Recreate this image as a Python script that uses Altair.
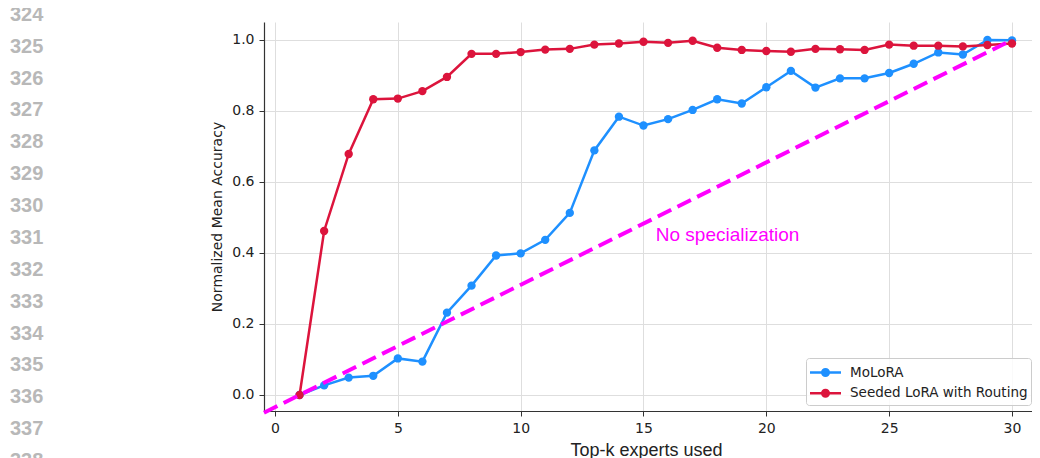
import altair as alt
import pandas as pd

# ---------------- data ----------------
k_values = list(range(1, 31))
molora = [0.0, 0.027, 0.049, 0.054, 0.103, 0.094, 0.232, 0.308, 0.393, 0.399,
          0.437, 0.513, 0.689, 0.784, 0.759, 0.777, 0.803, 0.833, 0.821, 0.867,
          0.913, 0.866, 0.892, 0.892, 0.907, 0.933, 0.965, 0.959, 1.000, 0.999]
seeded = [0.0, 0.462, 0.679, 0.833, 0.835, 0.856, 0.896, 0.961, 0.961, 0.966,
          0.973, 0.975, 0.987, 0.990, 0.995, 0.992, 0.998, 0.978, 0.972, 0.969,
          0.967, 0.975, 0.974, 0.972, 0.987, 0.984, 0.984, 0.982, 0.986, 0.990]
series_names = ["MoLoRA", "Seeded LoRA with Routing"]
series_colors = ["#1E90FF", "#DC143C"]

baseline_k = [-0.45, 30.0]
baseline_acc = [-0.05, 1.0]
baseline_color = "#FF00FF"

annotation_text = ["No specialization"]
annotation_k = [15.5]
annotation_acc = [0.45]

x_ticks = [0, 5, 10, 15, 20, 25, 30]
y_ticks = [0.0, 0.2, 0.4, 0.6, 0.8, 1.0]
x_domain = [-0.448, 30.815]
y_domain = [-0.0451, 1.0507]

line_numbers = list(range(324, 339))

# ---------------- frames ----------------
df = pd.DataFrame({
    "k": k_values * 2,
    "acc": molora + seeded,
    "series": [series_names[0]] * len(k_values) + [series_names[1]] * len(k_values),
})
df_base = pd.DataFrame({"k": baseline_k, "acc": baseline_acc})
df_ann = pd.DataFrame({"k": annotation_k, "acc": annotation_acc, "label": annotation_text})
df_ln = pd.DataFrame({"ln": line_numbers})

x_enc = alt.X("k:Q", scale=alt.Scale(domain=x_domain, nice=False, zero=False),
              axis=alt.Axis(values=x_ticks, format="d", title="Top-k experts used",
                            titleFont="Liberation Sans", titleFontSize=18,
                            titleX=382, titleY=39, titleBaseline="middle",
                            labelPadding=5))
y_enc = alt.Y("acc:Q", scale=alt.Scale(domain=y_domain, nice=False, zero=False),
              axis=alt.Axis(values=y_ticks, format=".1f", title="Normalized Mean Accuracy",
                            titleFont="DejaVu Sans", titleFontSize=14,
                            titleX=-46.5, titleBaseline="middle", labelPadding=5))

legend_symbol = ("M-1.55,0H1.55"
                 "M0.33,0A0.33,0.33,0,1,1,-0.33,0A0.33,0.33,0,1,1,0.33,0"
                 "M0.21,0A0.21,0.21,0,1,1,-0.21,0A0.21,0.21,0,1,1,0.21,0"
                 "M0.09,0A0.09,0.09,0,1,1,-0.09,0A0.09,0.09,0,1,1,0.09,0")

color_scale = alt.Scale(domain=series_names, range=series_colors)
legend = alt.Legend(title=None, orient="none", legendX=542, legendY=336,
                    symbolType=legend_symbol, symbolSize=400, symbolStrokeWidth=2.5,
                    symbolOffset=5, labelOffset=13, labelLimit=400,
                    labelFont="DejaVu Sans", labelFontSize=13.5, labelColor="#222222",
                    padding=3, rowPadding=0.7,
                    fillColor="rgba(255,255,255,0.85)", strokeColor="#cccccc",
                    cornerRadius=3)

layers = []
for i, name in enumerate(series_names):
    sub = alt.Chart(df).transform_filter(alt.datum.series == name)
    line = sub.mark_line(strokeWidth=2.5).encode(
        x=x_enc, y=y_enc,
        color=alt.Color("series:N", scale=color_scale, legend=legend if i == 0 else None),
    )
    pts = sub.mark_circle(size=70, opacity=1).encode(
        x=x_enc, y=y_enc,
        color=alt.Color("series:N", scale=color_scale, legend=None),
    )
    layers += [line, pts]

base = alt.Chart(df_base).mark_line(color=baseline_color, strokeWidth=4,
                                     strokeDash=[15, 7]).encode(x=x_enc, y=y_enc)
ann = alt.Chart(df_ann).mark_text(align="left", baseline="middle", font="Liberation Sans",
                                  fontSize=19, color=baseline_color).encode(
    x=x_enc, y=y_enc, text="label:N")

main = alt.layer(*layers, base, ann)

nums = alt.Chart(df_ln).mark_text(align="left", baseline="middle", font="Liberation Sans",
                                  fontSize=20, fontWeight="bold", color="#b8b8b8").encode(
    x=alt.value(-254),
    y=alt.Y("ln:Q", scale=alt.Scale(domain=[324, 338], range=[-7.2, 439.0]), axis=None),
    text=alt.Text("ln:Q", format="d"),
)

chart = alt.layer(main, nums).resolve_scale(y="independent").properties(
    width=768, height=389,
    padding={"left": 256, "top": 14, "right": 0, "bottom": 47},
    autosize=alt.AutoSizeParams(type="none"),
).configure_view(stroke=None).configure_axis(
    domainColor="#333333", domainWidth=1.2, tickColor="#333333", tickSize=5, tickWidth=1,
    labelFont="DejaVu Sans", labelFontSize=14, labelColor="#222222",
    gridColor="#dedede", gridWidth=1, titleFontWeight="normal", titleColor="#222222",
)

chart.save("out.html", embed_options={"renderer": "svg", "actions": False})
